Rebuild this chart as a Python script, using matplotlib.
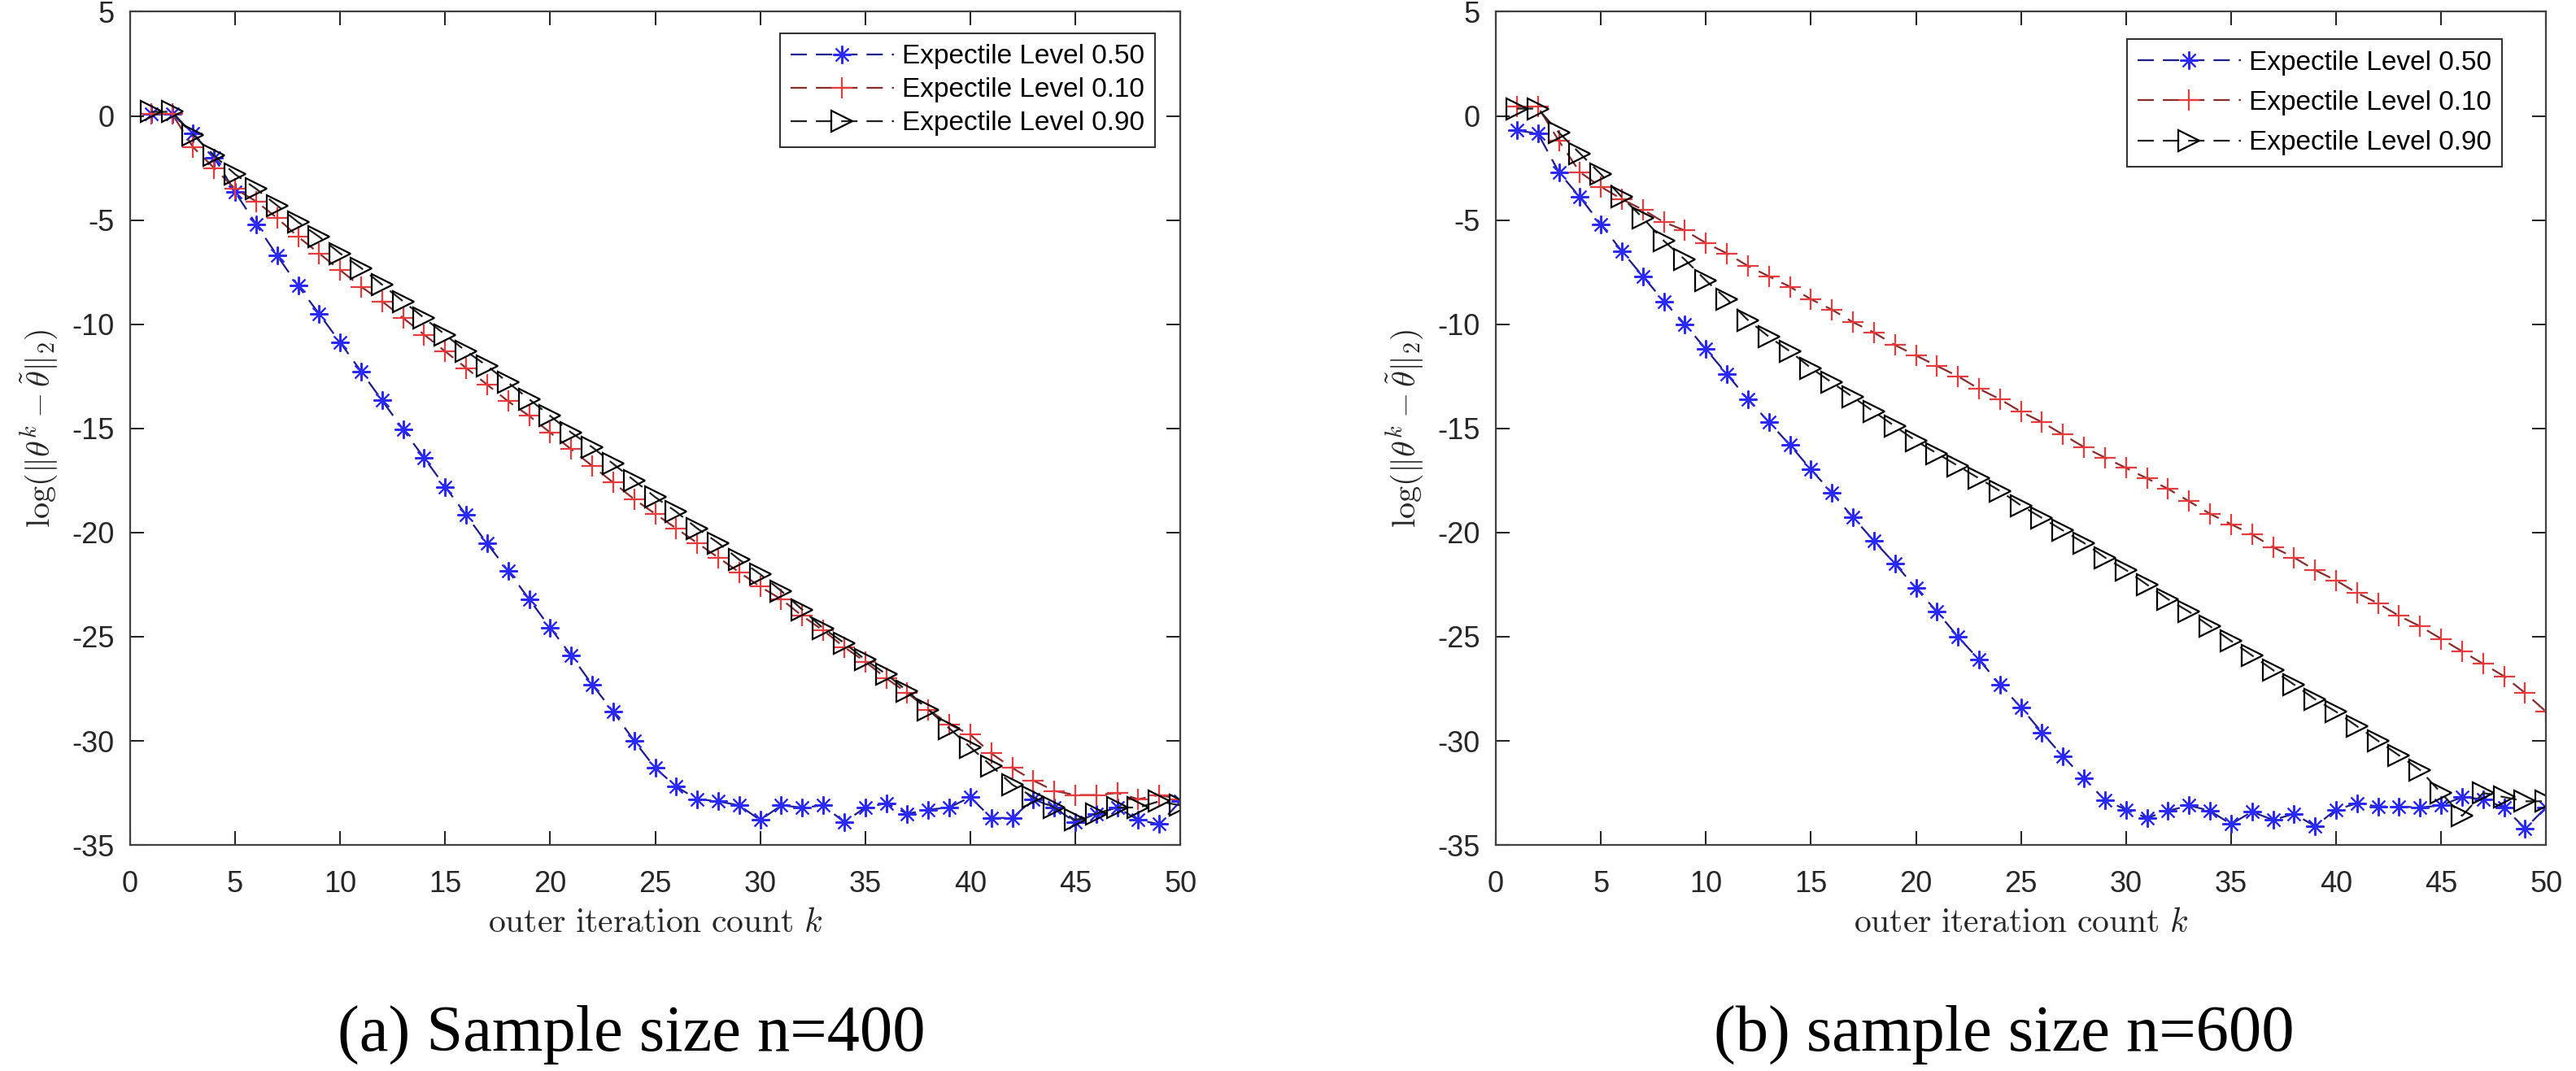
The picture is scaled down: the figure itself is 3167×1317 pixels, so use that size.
import numpy as np
import matplotlib
matplotlib.use("Agg")
import matplotlib.pyplot as plt

# iteration index
k = np.arange(1, 51)

# (a) n=400
a_050 = [0.1, 0.1, -0.85, -2.0, -3.65, -5.2, -6.7, -8.15, -9.5, -10.87,
         -12.27, -13.66, -15.05, -16.42, -17.8, -19.16, -20.53, -21.84, -23.2, -24.57,
         -25.9, -27.3, -28.6, -30.0, -31.3, -32.2, -32.8, -32.9, -33.1, -33.8,
         -33.1, -33.2, -33.1, -33.9, -33.2, -33.0, -33.5, -33.3, -33.2, -32.7,
         -33.7, -33.7, -32.8, -33.2, -33.9, -33.5, -33.2, -33.8, -34.0, -32.9]
a_010 = [0.1, 0.1, -1.5, -2.5, -3.5, -4.1, -4.9, -5.8, -6.6, -7.4,
         -8.2, -8.9, -9.7, -10.5, -11.3, -12.1, -12.9, -13.7, -14.4, -15.2,
         -16.0, -16.8, -17.6, -18.4, -19.1, -19.8, -20.5, -21.2, -21.9, -22.6,
         -23.2, -24.0, -24.7, -25.5, -26.2, -27.0, -27.7, -28.5, -29.2, -29.7,
         -30.6, -31.3, -31.9, -32.4, -32.6, -32.6, -32.5, -32.8, -32.6, -32.8]
a_090 = [0.2, 0.2, -0.9, -1.9, -2.8, -3.5, -4.3, -5.1, -5.8, -6.6,
         -7.3, -8.1, -8.9, -9.7, -10.5, -11.3, -12.0, -12.8, -13.6, -14.4,
         -15.2, -15.9, -16.7, -17.5, -18.3, -19.0, -19.8, -20.5, -21.3, -22.0,
         -22.8, -23.7, -24.6, -25.3, -26.1, -26.8, -27.6, -28.5, -29.4, -30.3,
         -31.2, -32.1, -32.7, -33.2, -33.8, -33.5, -33.2, -33.2, -32.9, -33.1]

# (b) n=600
b_050 = [-0.7, -0.84, -2.7, -3.9, -5.2, -6.5, -7.7, -8.9, -10.0, -11.2,
         -12.4, -13.6, -14.7, -15.8, -16.97, -18.1, -19.27, -20.4, -21.5, -22.67,
         -23.8, -25.0, -26.1, -27.3, -28.4, -29.6, -30.75, -31.8, -32.85, -33.3,
         -33.7, -33.36, -33.1, -33.36, -34.0, -33.4, -33.8, -33.5, -34.1, -33.3,
         -33.0, -33.15, -33.15, -33.2, -33.1, -32.7, -32.8, -33.2, -34.2, -33.2]
b_010 = [0.44, 0.44, -1.2, -2.7, -3.4, -4.0, -4.5, -5.1, -5.5, -6.1,
         -6.6, -7.2, -7.7, -8.2, -8.8, -9.3, -9.9, -10.4, -11.0, -11.5,
         -12.0, -12.5, -13.1, -13.6, -14.2, -14.7, -15.3, -15.9, -16.4, -16.9,
         -17.4, -17.9, -18.5, -19.1, -19.6, -20.1, -20.7, -21.2, -21.8, -22.3,
         -22.9, -23.4, -24.0, -24.5, -25.1, -25.7, -26.3, -26.9, -27.7, -28.6]
b_090 = [0.35, 0.35, -0.8, -1.8, -2.8, -3.9, -4.9, -6.0, -6.9, -7.9,
         -8.8, -9.8, -10.6, -11.3, -12.1, -12.8, -13.5, -14.2, -14.9, -15.6,
         -16.2, -16.8, -17.4, -18.0, -18.7, -19.3, -19.9, -20.5, -21.2, -21.8,
         -22.5, -23.2, -23.8, -24.5, -25.2, -25.9, -26.6, -27.3, -28.0, -28.6,
         -29.3, -30.0, -30.7, -31.4, -32.5, -33.6, -32.5, -32.7, -32.9, -32.9]

labels = ["Expectile Level 0.50", "Expectile Level 0.10", "Expectile Level 0.90"]
captions = ["(a) Sample size n=400", "(b) sample size n=600"]

plt.rcParams["mathtext.fontset"] = "cm"
plt.rcParams["axes.unicode_minus"] = False
plt.rcParams["font.family"] = ["Liberation Sans", "DejaVu Sans"]

fig = plt.figure(figsize=(31.67, 13.17), dpi=100)
ax1 = fig.add_axes([0.0505, 0.211, 0.4077, 0.778])
ax2 = fig.add_axes([0.5807, 0.211, 0.4077, 0.778])

dash = (0, (9, 5))


def draw(ax, y50, y10, y90, anchor, lspace):
    ax.plot(k, y50, linestyle=dash, color="#1c1c8a", lw=1.6,
            marker=(8, 2, 0), ms=16, mec="#2a2aff", mew=1.5, label=labels[0])
    ax.plot(k, y10, linestyle=dash, color="#8a2a2a", lw=1.6,
            marker="+", ms=19, mec="#e83a3a", mew=1.6, label=labels[1])
    ax.plot(k, y90, linestyle=dash, color="#222222", lw=1.6,
            marker=">", ms=19, mfc="none", mec="black", mew=1.6, label=labels[2])
    ax.set_xlim(0, 50)
    ax.set_ylim(-35, 5)
    ax.set_xticks(range(0, 51, 5))
    ax.set_yticks(range(-35, 6, 5))
    ax.tick_params(direction="in", top=True, right=True, length=12, width=1.5,
                   labelsize=26, colors="#262626")
    ax.tick_params(axis="x", pad=22)
    ax.tick_params(axis="y", pad=14)
    for s in ax.spines.values():
        s.set_linewidth(1.6)
        s.set_color("#404040")
    ax.set_xlabel(r"$\mathrm{outer\ iteration\ count}\ k$", fontsize=30, color="#262626")
    ax.xaxis.label.set_va("center")
    ax.xaxis.set_label_coords(0.5, -0.094)
    ax.set_ylabel(r"$\log(\|\theta^k-\tilde{\theta}\|_2)$", fontsize=29, color="#262626")
    ax.yaxis.label.set_va("center")
    ax.yaxis.set_label_coords(-0.087, 0.5)
    leg = ax.legend(loc="upper right", bbox_to_anchor=anchor, fontsize=24,
                    handlelength=3.8, fancybox=False, framealpha=1,
                    edgecolor="#333333", borderpad=0.4, labelspacing=lspace,
                    handletextpad=0.3, borderaxespad=0)
    leg.get_frame().set_linewidth(1.5)


draw(ax1, a_050, a_010, a_090, (0.976, 0.974), 0.3)
draw(ax2, b_050, b_010, b_090, (0.958, 0.967), 0.55)

fig.text(0.245, 0.034, captions[0], fontsize=58, family="Liberation Serif",
         ha="center", va="center")
fig.text(0.778, 0.034, captions[1], fontsize=58, family="Liberation Serif",
         ha="center", va="center")

fig.savefig("out.png", dpi=100)
